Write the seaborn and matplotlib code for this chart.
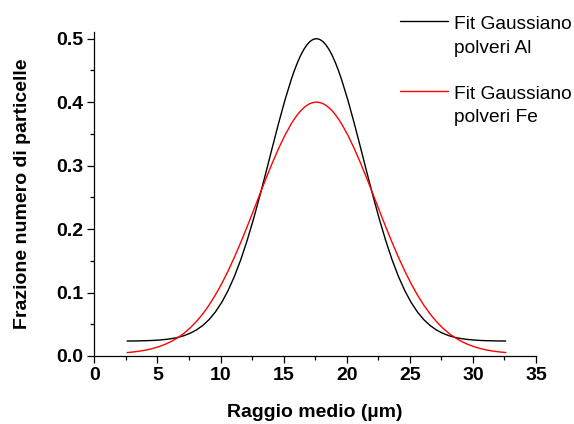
import numpy as np
import pandas as pd
import matplotlib
matplotlib.use("Agg")
import matplotlib.pyplot as plt
from matplotlib.lines import Line2D
from matplotlib.ticker import MultipleLocator, FormatStrFormatter
import seaborn as sns

# Mean particle radius (µm) at which the two Gaussian fits are sampled
raggio = [
    2.6, 3.1, 3.6, 4.1, 4.6, 5.1, 5.6, 6.1, 6.6, 7.1,
    7.6, 8.1, 8.6, 9.1, 9.6, 10.1, 10.6, 11.1, 11.6, 12.1,
    12.6, 13.1, 13.6, 14.1, 14.6, 15.1, 15.6, 15.85, 16.1, 16.35,
    16.6, 16.85, 17.1, 17.35, 17.6, 17.85, 18.1, 18.35, 18.6, 18.85,
    19.1, 19.35, 19.6, 20.1, 20.6, 21.1, 21.6, 22.1, 22.6,
    23.1, 23.6, 24.1, 24.6, 25.1, 25.6, 26.1, 26.6, 27.1, 27.6,
    28.1, 28.6, 29.1, 29.6, 30.1, 30.6, 31.1, 31.6, 32.1, 32.6,
]

# Gaussian fit, Al powder (number fraction)
fit_al = [
    0.0236, 0.0237, 0.0239, 0.0241, 0.0245, 0.0251, 0.0260, 0.0273, 0.0292, 0.0320,
    0.0359, 0.0411, 0.0482, 0.0575, 0.0695, 0.0846, 0.1031, 0.1253, 0.1514, 0.1814,
    0.2147, 0.2509, 0.2891, 0.3281, 0.3665, 0.4027, 0.4352, 0.4496, 0.4624, 0.4736,
    0.4829, 0.4903, 0.4957, 0.4989, 0.5000, 0.4989, 0.4957, 0.4903, 0.4829, 0.4736,
    0.4624, 0.4496, 0.4352, 0.4027, 0.3665, 0.3281, 0.2891, 0.2509, 0.2147,
    0.1814, 0.1514, 0.1253, 0.1031, 0.0846, 0.0695, 0.0575, 0.0482, 0.0411, 0.0359,
    0.0320, 0.0292, 0.0273, 0.0260, 0.0251, 0.0245, 0.0241, 0.0239, 0.0237, 0.0236,
]

# Gaussian fit, Fe powder (number fraction)
fit_fe = [
    0.0054, 0.0064, 0.0077, 0.0094, 0.0117, 0.0146, 0.0183, 0.0229, 0.0287, 0.0357,
    0.0443, 0.0545, 0.0665, 0.0804, 0.0963, 0.1141, 0.1340, 0.1556, 0.1788, 0.2032,
    0.2284, 0.2540, 0.2794, 0.3039, 0.3268, 0.3476, 0.3656, 0.3734, 0.3803, 0.3862,
    0.3911, 0.3950, 0.3978, 0.3994, 0.4000, 0.3994, 0.3978, 0.3950, 0.3911, 0.3862,
    0.3803, 0.3734, 0.3656, 0.3476, 0.3268, 0.3039, 0.2794, 0.2540, 0.2284,
    0.2032, 0.1788, 0.1556, 0.1340, 0.1141, 0.0963, 0.0804, 0.0665, 0.0545, 0.0443,
    0.0357, 0.0287, 0.0229, 0.0183, 0.0146, 0.0117, 0.0094, 0.0077, 0.0064, 0.0054,
]

serie = ["Fit Gaussiano\npolveri Al", "Fit Gaussiano\npolveri Fe"]
colori = ["#000000", "#ff0000"]

df = pd.DataFrame({
    "raggio": raggio * 2,
    "frazione": fit_al + fit_fe,
    "serie": [serie[0]] * len(raggio) + [serie[1]] * len(raggio),
})

sns.set_theme(style="ticks")
plt.rcParams["font.family"] = ["Liberation Sans", "DejaVu Sans"]
plt.rcParams.update({
    "text.color": "black",
    "axes.labelcolor": "black",
    "xtick.color": "black",
    "ytick.color": "black",
    "axes.edgecolor": "black",
})

fig = plt.figure(figsize=(5.74, 4.24), dpi=100)
W, H = 574, 424
ax = fig.add_axes([94.3 / W, 1 - 356 / H, (536 - 94.3) / W, (356 - 32.3) / H])

sns.lineplot(data=df, x="raggio", y="frazione", hue="serie",
             palette=dict(zip(serie, colori)), linewidth=1.0,
             legend=False, ax=ax, sort=False)

ax.set_xlim(0, 35)
ax.set_ylim(0, 0.51)
ax.xaxis.set_major_locator(MultipleLocator(5))
ax.xaxis.set_minor_locator(MultipleLocator(2.5))
ax.yaxis.set_major_locator(MultipleLocator(0.1))
ax.yaxis.set_minor_locator(MultipleLocator(0.05))
ax.yaxis.set_major_formatter(FormatStrFormatter("%.1f"))

for s in ("top", "right"):
    ax.spines[s].set_visible(False)
for s in ("left", "bottom"):
    ax.spines[s].set_linewidth(0.9)
    ax.spines[s].set_color("black")

ax.tick_params(which="major", direction="out", length=4.7, width=0.9,
               color="black", labelcolor="black", labelsize=14, pad=3.5)
ax.tick_params(which="minor", direction="out", length=2.9, width=0.9, color="black")
for lab in ax.get_xticklabels() + ax.get_yticklabels():
    lab.set_fontweight("bold")

ax.set_xlabel("Raggio medio (µm)", fontsize=14, fontweight="bold",
              labelpad=14, color="black")
ax.set_ylabel("Frazione numero di particelle", fontsize=14, fontweight="bold",
              labelpad=18, color="black")

# Legend drawn in figure coordinates, line beside the first text row
legend_rows = [(20.7, 29.3, 52.7), (91.0, 99.0, 121.7)]
for (ly, b1, b2), nome, col in zip(legend_rows, serie, colori):
    fig.add_artist(Line2D([400 / W, 448 / W], [1 - ly / H, 1 - ly / H],
                          color=col, linewidth=1.0))
    riga1, riga2 = nome.split("\n")
    fig.text(454 / W, 1 - b1 / H, riga1, fontsize=13.8, va="baseline",
             ha="left", color="black")
    fig.text(454 / W, 1 - b2 / H, riga2, fontsize=13.8, va="baseline",
             ha="left", color="black")

fig.savefig("out.png", dpi=100, facecolor="white")
